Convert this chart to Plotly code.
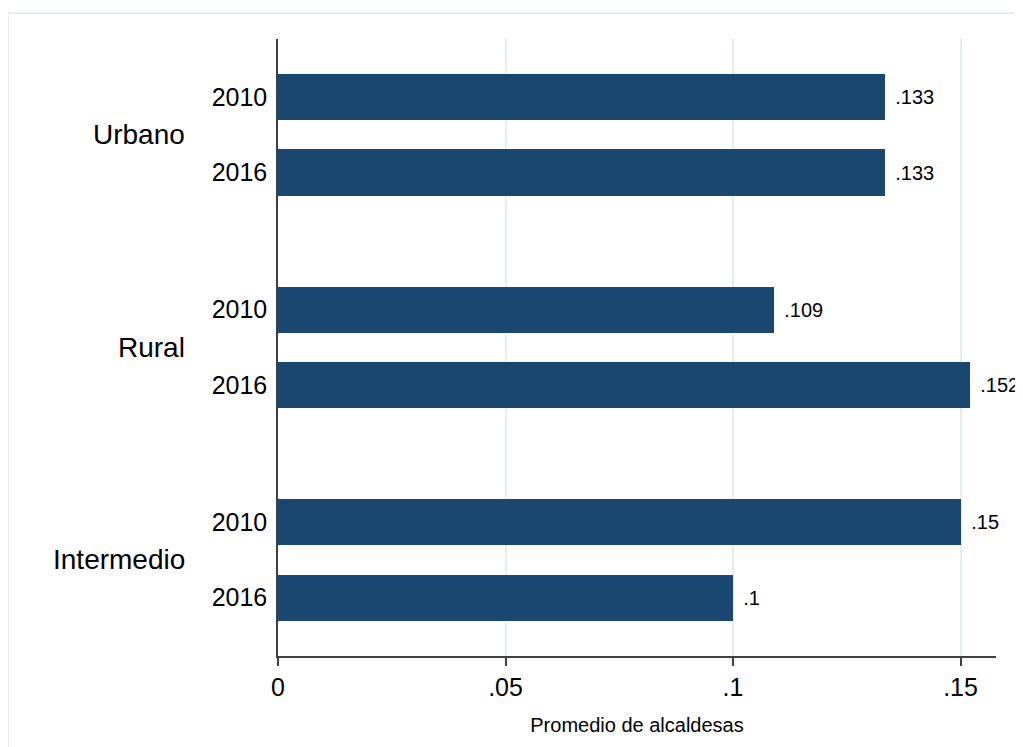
import plotly.graph_objects as go

# ---- data ----
groups = ["Urbano", "Rural", "Intermedio"]
years = ["2010", "2016"]
values = {
    "Urbano": [0.1334, 0.1334],
    "Rural": [0.109, 0.152],
    "Intermedio": [0.15, 0.1],
}
x_ticks = [0, 0.05, 0.10, 0.15]
x_ticklabels = ["0", ".05", ".1", ".15"]
x_title = "Promedio de alcaldesas"

BAR_COLOR = "#1a476f"
FONT = "Liberation Sans, Arial, sans-serif"

def fmt(v):
    s = ("%.3f" % v).rstrip("0").rstrip(".")
    return s[1:] if s.startswith("0.") else s

GROUP_STEP = 2.815  # spacing between groups, in units of within-group step

ys, xs, texts, yticktext = [], [], [], []
for gi, g in enumerate(groups):
    for si, yr in enumerate(years):
        pos = gi * GROUP_STEP + si
        ys.append(pos)
        xs.append(values[g][si])
        texts.append(fmt(values[g][si]))
        yticktext.append(yr)

# figure geometry (page adds an 8px body margin)
W, H = 1015, 739
L, R, T, B = 270, 27, 31, 91
PW, PH = W - L - R, H - T - B

def px_x(px):  # figure pixel -> paper x
    return (px - L) / PW

def px_y(py):  # figure pixel (from top) -> paper y
    return (H - B - py) / PH

fig = go.Figure()
fig.add_trace(go.Bar(
    x=xs, y=ys, orientation="h", width=0.61,
    marker=dict(color=BAR_COLOR, line=dict(width=0)),
    text=["\u200a " + t for t in texts], textposition="outside",
    constraintext="none",
    textfont=dict(family=FONT, size=20, color="#000000"),
    cliponaxis=False, hoverinfo="skip",
))

annotations = []
for gi, g in enumerate(groups):
    annotations.append(dict(
        x=px_x(179), xref="paper", y=gi * GROUP_STEP + 0.5, yref="y",
        text=g, showarrow=False, xanchor="right", yanchor="middle",
        font=dict(family=FONT, size=28, color="#000000"),
    ))

fig.update_layout(
    width=W, height=H,
    margin=dict(l=L, r=R, t=T, b=B),
    paper_bgcolor="white", plot_bgcolor="white",
    showlegend=False,
    font=dict(family=FONT, color="#000000"),
    bargap=0,
    xaxis=dict(
        range=[0, 0.1578], tickvals=x_ticks, ticktext=x_ticklabels,
        showgrid=True, gridcolor="#e4eef1", gridwidth=1.5,
        zeroline=False, showline=True, linecolor="#404040", linewidth=1.5,
        ticks="outside", ticklen=8, tickcolor="#404040", tickwidth=1.5,
        tickfont=dict(family=FONT, size=25, color="#000000"),
        title=dict(text=x_title, font=dict(family=FONT, size=20, color="#000000"), standoff=18),
    ),
    yaxis=dict(
        range=[(656 - 97) / 75.5, (39 - 97) / 75.5],
        tickvals=ys, ticktext=yticktext,
        showgrid=False, zeroline=False, showline=True,
        linecolor="#404040", linewidth=1.5, ticks="", ticklabelstandoff=4,
        tickfont=dict(family=FONT, size=25, color="#000000"),
    ),
    annotations=annotations,
    shapes=[dict(type="rect", xref="paper", yref="paper",
                 x0=px_x(0), x1=px_x(1012),
                 y0=px_y(760), y1=px_y(5),
                 line=dict(color="#e6eef2", width=2), layer="below")],
)

fig.write_html("out.html")
